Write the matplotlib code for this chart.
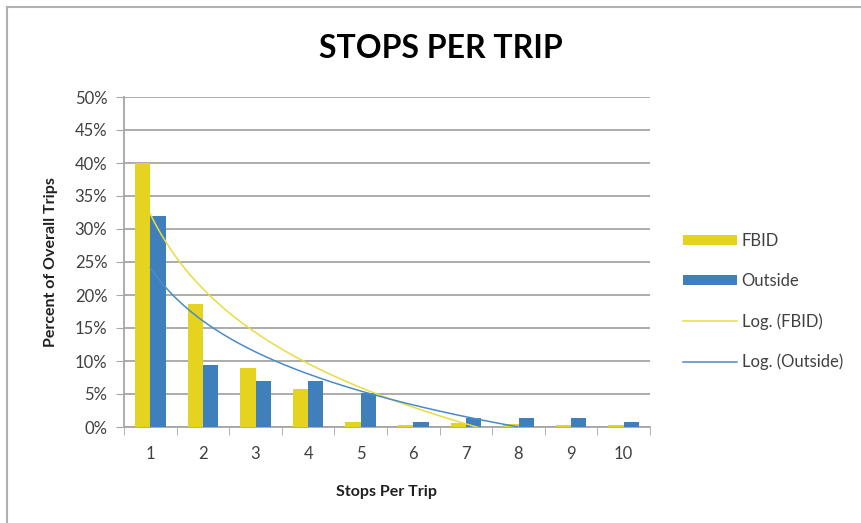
import numpy as np
import matplotlib
matplotlib.use("Agg")
import matplotlib.pyplot as plt
from matplotlib.lines import Line2D
from matplotlib.ticker import PercentFormatter

plt.rcParams['font.family'] = ['Lato', 'DejaVu Sans']

stops = np.arange(1, 11)
stop_labels = [str(s) for s in stops]
fbid = [40.0, 18.7, 8.9, 5.7, 0.7, 0.3, 0.6, 0.4, 0.3, 0.3]
outside = [32.0, 9.4, 6.9, 6.9, 5.2, 0.8, 1.4, 1.3, 1.3, 0.8]

yellow = '#E5D31F'
blue = '#3F80BC'
grid_gray = '#A6A6A6'
text_col = '#404040'

fig = plt.figure(figsize=(8.61, 5.23), dpi=100)
ax = fig.add_axes([124 / 861, 1 - 427 / 523, (650 - 124) / 861, (427 - 97) / 523])

# chart frame (top and left edges)
fig.add_artist(Line2D([7 / 861, 7 / 861], [0, 1 - 7 / 523], color='#B0B0B0', lw=1.5))
fig.add_artist(Line2D([7 / 861, 1], [1 - 7 / 523, 1 - 7 / 523], color='#B0B0B0', lw=1.5))

w = 0.29
b1 = ax.bar(stops - w / 2, fbid, width=w, color=yellow, label='FBID', zorder=3)
b2 = ax.bar(stops + w / 2, outside, width=w, color=blue, label='Outside', zorder=3)

# logarithmic trendlines, least squares on ln(x)
xs = np.linspace(1, 10, 300)
a_f, b_f = np.polyfit(np.log(stops), fbid, 1)
a_o, b_o = np.polyfit(np.log(stops), outside, 1)
l1, = ax.plot(xs, a_f * np.log(xs) + b_f, color='#E8DC40', lw=1.1, label='Log. (FBID)', zorder=4)
l2, = ax.plot(xs, a_o * np.log(xs) + b_o, color='#4A8BC9', lw=1.1, label='Log. (Outside)', zorder=4)

ax.set_xlim(0.5, 10.5)
ax.set_ylim(0, 50)
ax.set_yticks(np.arange(0, 51, 5))
ax.yaxis.set_major_formatter(PercentFormatter(decimals=0))
ax.set_xticks(stops)
ax.set_xticklabels(stop_labels)
ax.set_xticks(np.arange(0.5, 11, 1), minor=True)
ax.tick_params(axis='x', which='major', length=0, pad=14, labelsize=12, labelcolor=text_col)
ax.tick_params(axis='x', which='minor', length=6, color=grid_gray, direction='out')
ax.tick_params(axis='y', length=6, color=grid_gray, pad=6, labelsize=12, labelcolor=text_col)

ax.grid(axis='y', color=grid_gray, lw=1.3, zorder=0)
for side in ['top', 'right']:
    ax.spines[side].set_visible(False)
for side in ['left', 'bottom']:
    ax.spines[side].set_color(grid_gray)
    ax.spines[side].set_linewidth(1.3)

ax.set_xlabel('Stops Per Trip', fontsize=11.5, fontweight='bold', color='#202020', labelpad=16)
ax.set_ylabel('Percent of Overall Trips', fontsize=11.5, fontweight='bold', color='#202020', labelpad=12)
fig.text(441 / 861, 1 - 48 / 523, 'STOPS PER TRIP', fontsize=23, fontweight='bold',
         ha='center', va='center', color='#000000')

leg = ax.legend([b1, b2, l1, l2], ['FBID', 'Outside', 'Log. (FBID)', 'Log. (Outside)'],
                loc='center left', bbox_to_anchor=(1.035, 0.38), frameon=False,
                fontsize=12, handlelength=3.2, handleheight=0.55, labelspacing=1.45,
                handletextpad=0.3)
for t in leg.get_texts():
    t.set_color(text_col)

fig.savefig('out.png', dpi=100, facecolor='white')
